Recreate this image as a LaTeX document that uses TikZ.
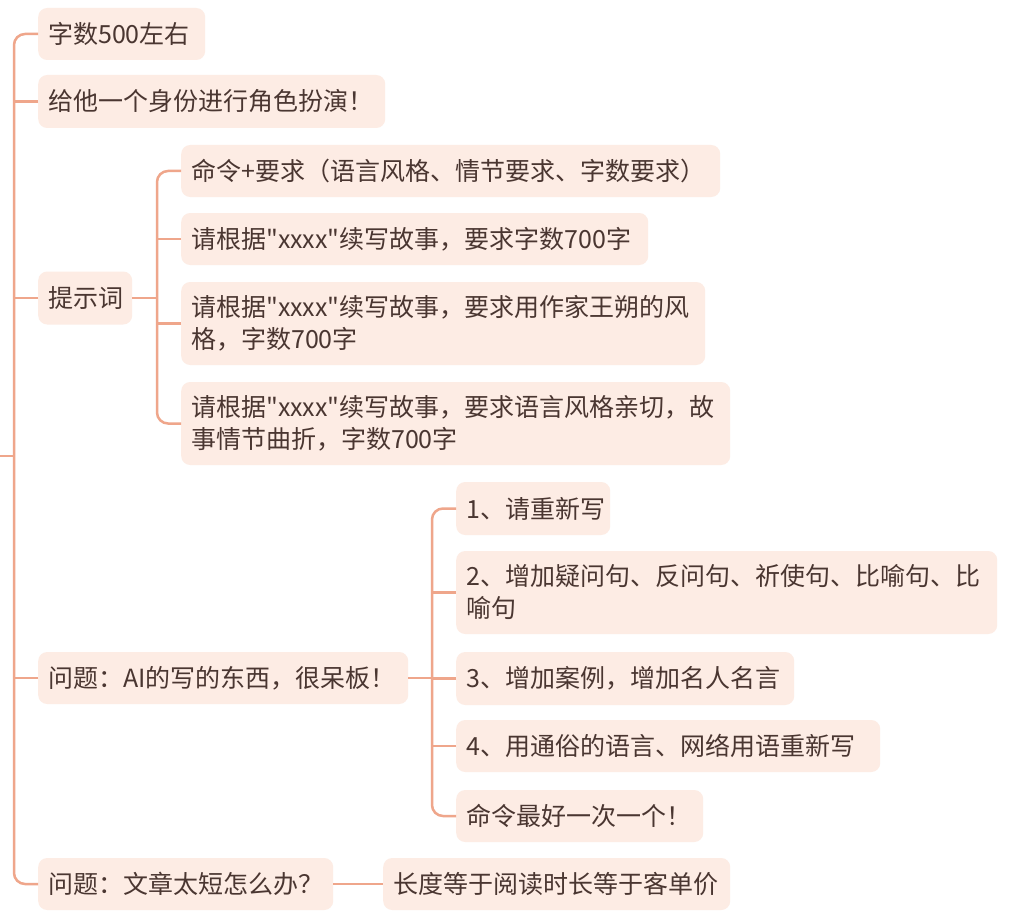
\documentclass[tikz,border=0pt]{standalone}
\usepackage{fontspec}
\newfontfamily\cjk{Noto Sans CJK SC}
\definecolor{boxfill}{HTML}{FDECE4}
\definecolor{linec}{HTML}{EFA68B}
\definecolor{txt}{HTML}{4A3631}
\begin{document}
\begin{tikzpicture}[x=1pt,y=-1pt,
  box/.style={draw=none, fill=boxfill, rounded corners=9pt, anchor=west,
    inner xsep=10pt, inner ysep=3pt, align=left, text=txt,
    font=\cjk\fontsize{25}{32}\selectfont},
  conn/.style={draw=linec, line width=2.5pt, rounded corners=11pt}]
\useasboundingbox (0,0) rectangle (1024,912);
\fill[white] (0,0) rectangle (1024,912);

% level 1
\node[box, text width=147pt, minimum height=52pt] (n1) at (38,34) {字数500左右};
\node[box, text width=327pt, minimum height=53pt] (n2) at (38,101.5) {给他一个身份进行角色扮演！};
\node[box, text width=74pt, minimum height=53pt] (n3) at (38,298) {提示词};
\node[box, text width=350pt, minimum height=52pt] (n8) at (38,678) {问题：AI的写的东西，很呆板！};
\node[box, text width=275pt, minimum height=52pt] (n14) at (38,884) {问题：文章太短怎么办？};

% prompt children
\node[box, text width=519pt, minimum height=52pt] (n4) at (181,171) {命令+要求（语言风格、情节要求、字数要求）};
\node[box, text width=447pt, minimum height=52pt] (n5) at (181,239) {请根据"xxxx"续写故事，要求字数700字};
\node[box, text width=504pt, minimum height=83pt] (n6) at (181,323.5) {请根据"xxxx"续写故事，要求用作家王朔的风\\格，字数700字};
\node[box, text width=529pt, minimum height=83pt] (n7) at (181,423.5) {请根据"xxxx"续写故事，要求语言风格亲切，故\\事情节曲折，字数700字};

% problem children
\node[box, text width=134pt, minimum height=53pt] (n9) at (456,508.5) {1、请重新写};
\node[box, text width=521pt, minimum height=83pt] (n10) at (456,592.5) {2、增加疑问句、反问句、祈使句、比喻句、比\\喻句};
\node[box, text width=318pt, minimum height=53pt] (n11) at (456,678.5) {3、增加案例，增加名人名言};
\node[box, text width=404pt, minimum height=52pt] (n12) at (456,746) {4、用通俗的语言、网络用语重新写};
\node[box, text width=227pt, minimum height=52pt] (n13) at (456,816) {命令最好一次一个！};

\node[box, text width=327pt, minimum height=52pt] (n15) at (383,884) {长度等于阅读时长等于客单价};

% coordinates
\coordinate (root) at (0,456);
\coordinate (trunk) at (14,456);
\coordinate (j1) at (157,298);
\coordinate (j2) at (432,678);

% root connectors
\draw[conn] (root) -- (trunk);
\draw[conn] (n1.west) -| (trunk) |- (n14.west);
\draw[conn] (n2.west) -- (n2.west -| trunk);
\draw[conn] (n3.west) -- (n3.west -| trunk);
\draw[conn] (n8.west) -- (n8.west -| trunk);

% prompt connectors
\draw[conn] (n3.east) -- (j1);
\draw[conn] (n4.west) -| (j1) |- (n7.west);
\draw[conn] (n5.west) -- (n5.west -| j1);
\draw[conn] (n6.west) -- (n6.west -| j1);

% problem connectors
\draw[conn] (n8.east) -- (j2);
\draw[conn] (n9.west) -| (j2) |- (n13.west);
\draw[conn] (n10.west) -- (n10.west -| j2);
\draw[conn] (n11.west) -- (n11.west -| j2);
\draw[conn] (n12.west) -- (n12.west -| j2);

% last
\draw[conn] (n14.east) -- (n15.west);
\end{tikzpicture}
\end{document}
